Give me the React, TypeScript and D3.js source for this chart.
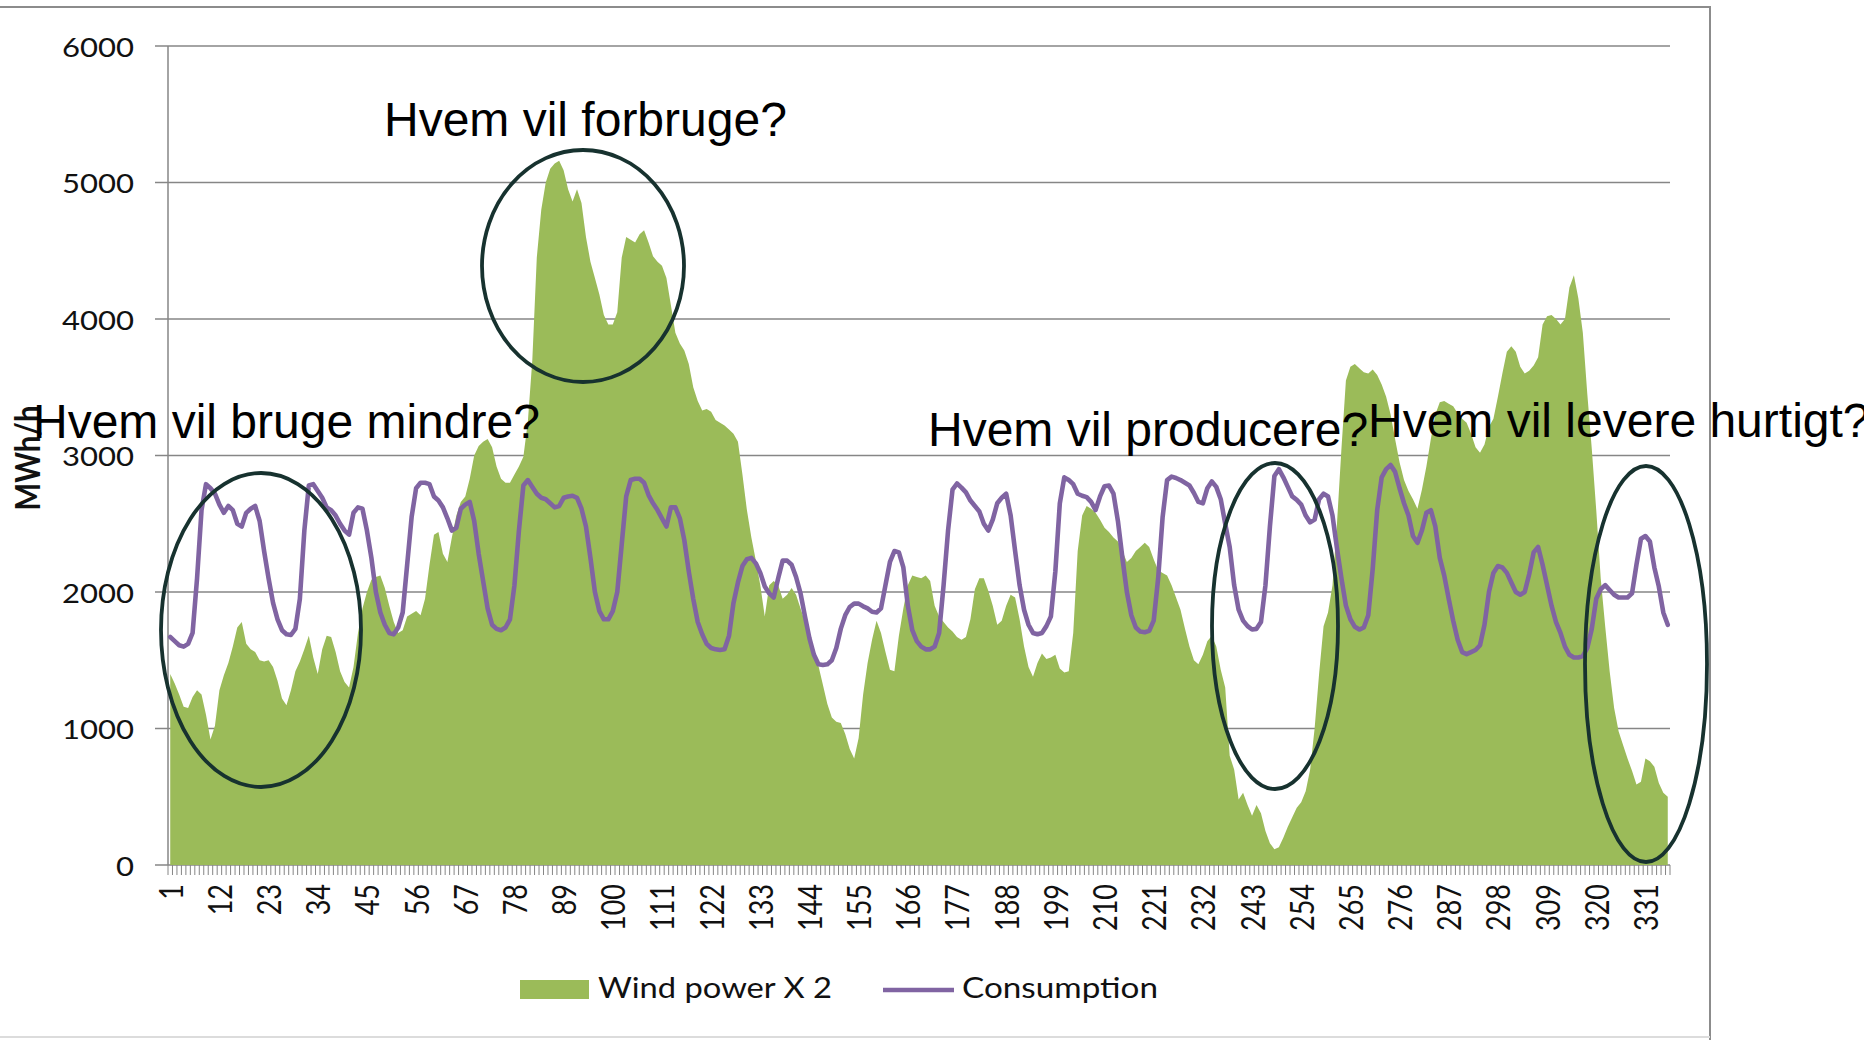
import React from "react";
import * as d3 from "d3";

// ---------- DATA ----------
const hours: number[] = Array.from({ length: 336 }, (_, i) => i + 1);

const windPowerX2: number[] = [
  1400,1330,1250,1160,1150,1230,1280,1250,1100,920,
  1020,1280,1390,1480,1600,1740,1780,1620,1580,1560,
  1500,1490,1500,1450,1350,1220,1170,1280,1420,1490,
  1580,1680,1520,1400,1580,1680,1670,1560,1420,1340,
  1300,1450,1700,1880,2000,2090,2110,2120,2030,1900,
  1780,1700,1720,1820,1840,1860,
  1830,1950,2200,2420,2440,2280,2220,2400,2560,2660,
  2700,2830,3000,3070,3100,3120,3060,2920,2830,2800,
  2800,2860,2920,2990,3250,3700,4450,4800,5000,5100,
  5140,5160,5090,4950,4860,4950,4850,4600,4420,4300,
  4180,4030,3960,3960,4050,4450,4600,4580,4560,4620,
  4650,4560,4460,4420,4390,4300,
  4100,3900,3820,3770,3670,3500,3400,3330,3340,3320,
  3260,3240,3220,3190,3160,3100,2860,2600,2400,2230,
  2050,1820,2050,2080,2050,1950,1980,2030,1980,1880,
  1780,1650,1560,1460,1320,1180,1080,1050,1040,960,
  850,780,930,1250,1480,1650,1790,1700,1560,1430,
  1420,1680,1880,2050,2120,2110,
  2100,2120,2080,1900,1820,1780,1740,1710,1670,1650,
  1670,1800,2020,2100,2100,2010,1900,1760,1790,1900,
  1980,1960,1800,1600,1450,1380,1480,1550,1510,1520,
  1540,1440,1410,1420,1700,2300,2560,2630,2610,2580,
  2530,2470,2440,2400,2370,2300,2220,2250,2300,2330,
  2360,2330,2240,2160,2140,2120,
  2050,1960,1870,1730,1600,1500,1470,1540,1640,1680,
  1600,1430,1300,800,700,480,530,440,360,440,
  380,250,160,115,130,200,280,350,420,460,
  540,700,1000,1400,1750,1850,2050,2500,3050,3550,
  3650,3670,3640,3610,3600,3630,3590,3520,3430,3300,
  3120,2950,2820,2740,2680,2610,
  2750,2920,3120,3300,3390,3400,3380,3360,3310,3270,
  3240,3160,3060,3020,3080,3210,3270,3430,3600,3760,
  3800,3760,3650,3600,3620,3660,3720,3960,4020,4030,
  4000,3960,4000,4230,4320,4150,3900,3450,3050,2600,
  2100,1750,1420,1150,980,880,780,690,590,610,
  780,760,720,600,530,500,
];

const consumption: number[] = [
  1670,1640,1610,1600,1620,1700,2100,2600,2790,2760,
  2720,2640,2580,2630,2600,2500,2480,2580,2610,2630,
  2520,2300,2100,1920,1800,1720,1690,1685,1730,1950,
  2450,2780,2790,2740,2690,2620,2600,2560,2500,2450,
  2420,2580,2620,2610,2450,2250,2000,1850,1760,1700,
  1690,1740,1850,2200,2550,2760,
  2800,2800,2790,2700,2670,2620,2540,2450,2470,2610,
  2640,2660,2520,2280,2080,1880,1760,1730,1720,1740,
  1800,2050,2450,2780,2820,2770,2720,2690,2680,2650,
  2620,2630,2690,2700,2705,2690,2610,2480,2250,2000,
  1860,1800,1800,1860,2000,2350,2700,2820,2830,2830,
  2800,2710,2650,2600,2540,2480,
  2620,2620,2540,2380,2150,1950,1780,1690,1620,1590,
  1580,1575,1580,1680,1920,2070,2190,2240,2250,2210,
  2140,2040,1990,1960,2100,2230,2230,2200,2110,1990,
  1820,1660,1540,1470,1465,1470,1500,1590,1730,1830,
  1890,1915,1915,1895,1880,1855,1850,1880,2050,2220,
  2300,2290,2180,1900,1720,1640,
  1600,1580,1580,1600,1700,2050,2450,2750,2795,2765,
  2730,2670,2630,2590,2500,2450,2530,2650,2690,2720,
  2560,2300,2050,1870,1760,1700,1690,1700,1750,1820,
  2150,2650,2840,2820,2790,2720,2705,2695,2660,2600,
  2700,2775,2780,2720,2520,2250,2000,1830,1740,1710,
  1705,1715,1790,2100,2550,2820,
  2845,2835,2820,2800,2780,2725,2660,2650,2760,2810,
  2770,2680,2500,2330,2050,1870,1790,1750,1725,1730,
  1780,2050,2480,2850,2900,2840,2770,2700,2675,2640,
  2560,2510,2530,2680,2720,2700,2560,2320,2100,1900,
  1800,1745,1725,1740,1830,2170,2600,2840,2900,2930,
  2880,2760,2650,2560,2410,2360,
  2450,2580,2600,2480,2250,2120,1950,1790,1650,1560,
  1545,1560,1575,1610,1760,2000,2140,2190,2180,2140,
  2070,2000,1980,2000,2130,2290,2330,2200,2050,1900,
  1780,1700,1600,1540,1520,1520,1530,1590,1730,1950,
  2020,2050,2015,1980,1960,1960,1960,1990,2200,2390,
  2410,2370,2180,2040,1850,1760,
];

const yTicks: number[] = [0, 1000, 2000, 3000, 4000, 5000, 6000];
const xTickLabels: number[] = [1,12,23,34,45,56,67,78,89,100,111,122,133,144,155,166,177,188,199,210,221,232,243,254,265,276,287,298,309,320,331];

const seriesNames: string[] = ["Wind power X 2", "Consumption"];
const yAxisTitle = "MWh/h";

const annotationTexts: string[] = [
  "Hvem vil forbruge?",
  "Hvem vil bruge mindre?",
  "Hvem vil producere?",
  "Hvem vil levere hurtigt?",
];

// ---------- LAYOUT ----------
const W = 1864;
const H = 1040;
const PL = 168, PR = 1670, PT = 46, PB = 865;
const GREEN = "#9BBB59";
const PURPLE = "#8064A2";
const GRID = "#868686";
const ELLIPSE = "#17322f";
const AXIS_FONT = "Lato, 'Open Sans', sans-serif";
const ANN_FONT = "'Liberation Sans', Arial, sans-serif";

export default function App() {
  const x = d3.scaleBand<number>().domain(hours).range([PL, PR]);
  const bw = x.bandwidth();
  const cx = (h: number) => (x(h) as number) + bw / 2;
  const y = d3.scaleLinear().domain([0, 6000]).range([PB, PT]);

  const area = d3
    .area<number>()
    .x((_, i) => cx(hours[i]))
    .y0(y(0))
    .y1((d) => y(d));
  const line = d3
    .line<number>()
    .x((_, i) => cx(hours[i]))
    .y((d) => y(d));

  const boundaries = [...hours.map((h) => x(h) as number), PR];

  const ellipses = [
    { cx: 261, cy: 630, rx: 100, ry: 157 },
    { cx: 583, cy: 266, rx: 101, ry: 116 },
    { cx: 1275, cy: 626, rx: 63, ry: 163 },
    { cx: 1646, cy: 664, rx: 61, ry: 198 },
  ];
  const annPos = [
    { x: 384, y: 136 },
    { x: 33, y: 438 },
    { x: 928, y: 446 },
    { x: 1368, y: 437 },
  ];

  return (
    <svg
      width={W}
      height={H}
      style={{ position: "absolute", left: 0, top: 0, background: "#fff" }}
    >
      <rect x={0} y={0} width={W} height={H} fill="#fff" />
      <line x1={0} y1={7} x2={1710} y2={7} stroke="#8c8c8c" strokeWidth={2} />
      <line x1={1710} y1={6} x2={1710} y2={H} stroke="#8c8c8c" strokeWidth={2} />
      <line x1={0} y1={1037} x2={1710} y2={1037} stroke="#dcdcdc" strokeWidth={2} />

      {yTicks.map((t) => (
        <line key={t} x1={155} x2={PR} y1={y(t)} y2={y(t)} stroke={GRID} strokeWidth={1.3} />
      ))}
      <line x1={PL} x2={PL} y1={PT} y2={PB} stroke={GRID} strokeWidth={1.5} />

      {boundaries.map((bx, i) => (
        <line key={i} x1={bx} x2={bx} y1={PB} y2={PB + 10} stroke={GRID} strokeWidth={1} />
      ))}

      <path d={area(windPowerX2) || ""} fill={GREEN} />
      <path
        d={line(consumption) || ""}
        fill="none"
        stroke={PURPLE}
        strokeWidth={4.6}
        strokeLinejoin="round"
        strokeLinecap="round"
      />

      {yTicks.map((t) => (
        <text
          key={t}
          transform={`translate(134, ${y(t)}) scale(1.15,1)`}
          textAnchor="end"
          dominantBaseline="central"
          fontFamily={AXIS_FONT}
          fontSize={27}
          fill="#111"
        >
          {t}
        </text>
      ))}

      {xTickLabels.map((l) => (
        <text
          key={l}
          transform={`translate(${cx(l)}, 884) scale(1.2,1) rotate(-90)`}
          textAnchor="end"
          dominantBaseline="central"
          fontFamily={AXIS_FONT}
          fontSize={27}
          fill="#111"
        >
          {l}
        </text>
      ))}

      <text
        transform={`translate(27, 458) scale(1.15,1) rotate(-90)`}
        textAnchor="middle"
        dominantBaseline="central"
        fontFamily={AXIS_FONT}
        fontWeight="bold"
        fontSize={29}
        textLength={105}
        lengthAdjust="spacingAndGlyphs"
        fill="#111"
      >
        {yAxisTitle}
      </text>

      <rect x={520} y={980} width={69} height={19} fill={GREEN} />
      <text
        x={598}
        y={998}
        fontFamily={AXIS_FONT}
        fontSize={28}
        textLength={234}
        lengthAdjust="spacingAndGlyphs"
        fill="#111"
      >
        {seriesNames[0]}
      </text>
      <line x1={883} x2={954} y1={990} y2={990} stroke={PURPLE} strokeWidth={4.6} />
      <text
        x={962}
        y={998}
        fontFamily={AXIS_FONT}
        fontSize={28}
        textLength={196}
        lengthAdjust="spacingAndGlyphs"
        fill="#111"
      >
        {seriesNames[1]}
      </text>

      {ellipses.map((e, i) => (
        <ellipse key={i} cx={e.cx} cy={e.cy} rx={e.rx} ry={e.ry} fill="none" stroke={ELLIPSE} strokeWidth={3.8} />
      ))}

      {annotationTexts.map((t, i) => (
        <text key={i} x={annPos[i].x} y={annPos[i].y} fontFamily={ANN_FONT} fontSize={48} fill="#000">
          {t}
        </text>
      ))}
    </svg>
  );
}
